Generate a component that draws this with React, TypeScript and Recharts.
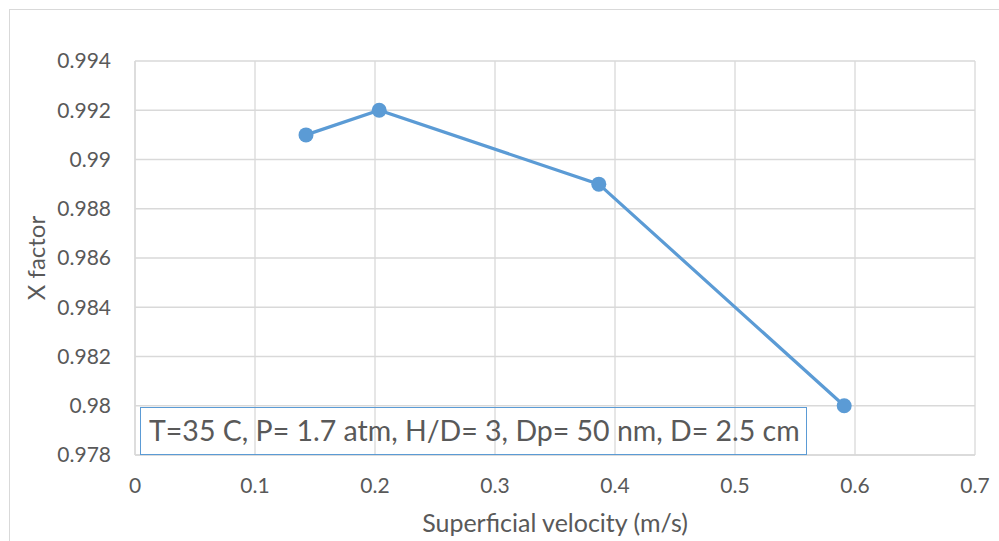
import { CartesianGrid, Line, LineChart, XAxis, YAxis } from "recharts";

const VELOCITY = [0.1425, 0.2035, 0.3865, 0.591];
const X_FACTOR = [0.991, 0.992, 0.989, 0.98];
const X_TICKS = [0, 0.1, 0.2, 0.3, 0.4, 0.5, 0.6, 0.7];
const Y_TICKS = [0.978, 0.98, 0.982, 0.984, 0.986, 0.988, 0.99, 0.992, 0.994];
const NOTE = "T=35 C, P= 1.7 atm, H/D= 3, Dp= 50 nm, D= 2.5 cm";

const FONT = "Lato, 'Open Sans', sans-serif";
const TEXT = "#595959";
const GRID = "#d9d9d9";
const BLUE = "#5b9bd5";

const data = VELOCITY.map((v, i) => ({ v, x: X_FACTOR[i] }));

const fmt = (n: number) => String(Number(n.toFixed(3)));

export default function App() {
  return (
    <div style={{ position: "absolute", left: 0, top: 0, width: 999, height: 541, background: "#fff", overflow: "hidden", fontFamily: FONT }}>
      <div style={{ position: "absolute", left: 9, top: 9, width: 995, height: 540, borderTop: `1.5px solid ${GRID}`, borderLeft: `1.5px solid ${GRID}` }} />
      <LineChart width={999} height={541} data={data} margin={{ top: 61, right: 24, bottom: 0, left: 0 }} style={{ position: "absolute", left: 0, top: 0 }}>
        <CartesianGrid stroke={GRID} strokeWidth={1.3} />
        <XAxis
          dataKey="v"
          type="number"
          domain={[0, 0.7]}
          ticks={X_TICKS}
          tickFormatter={fmt}
          height={86}
          tickSize={0}
          tickMargin={23}
          axisLine={{ stroke: GRID, strokeWidth: 1.3 }}
          tick={{ fill: TEXT, fontSize: 21, fontFamily: FONT }}
          label={{
            content: ({ viewBox }: any) => (
              <text x={viewBox.x + viewBox.width / 2} y={viewBox.y + 77} textAnchor="middle" fill={TEXT} fontSize={25} fontFamily={FONT}>
                Superficial velocity (m/s)
              </text>
            ),
          }}
        />
        <YAxis
          type="number"
          domain={[0.978, 0.994]}
          ticks={Y_TICKS}
          tickFormatter={fmt}
          width={135}
          tickSize={0}
          tickMargin={24}
          axisLine={{ stroke: GRID, strokeWidth: 1.3 }}
          tick={{ fill: TEXT, fontSize: 21, fontFamily: FONT }}
          label={{
            content: ({ viewBox }: any) => {
              const cy = viewBox.y + viewBox.height / 2;
              return (
                <text x={35} y={cy} transform={`rotate(-90 35 ${cy})`} textAnchor="middle" dominantBaseline="central" fill={TEXT} fontSize={24} fontFamily={FONT}>
                  X factor
                </text>
              );
            },
          }}
        />
        <Line
          type="linear"
          dataKey="x"
          stroke={BLUE}
          strokeWidth={3.2}
          dot={{ r: 7.5, fill: BLUE, stroke: BLUE, strokeWidth: 0 }}
          activeDot={false}
          isAnimationActive={false}
        />
      </LineChart>
      <div
        style={{
          position: "absolute",
          left: 140,
          top: 407,
          width: 667,
          height: 48,
          boxSizing: "border-box",
          border: `1.5px solid ${BLUE}`,
          color: TEXT,
          fontSize: 28.5,
          lineHeight: "45px",
          paddingLeft: 8,
          whiteSpace: "nowrap",
        }}
      >
        {NOTE}
      </div>
    </div>
  );
}
